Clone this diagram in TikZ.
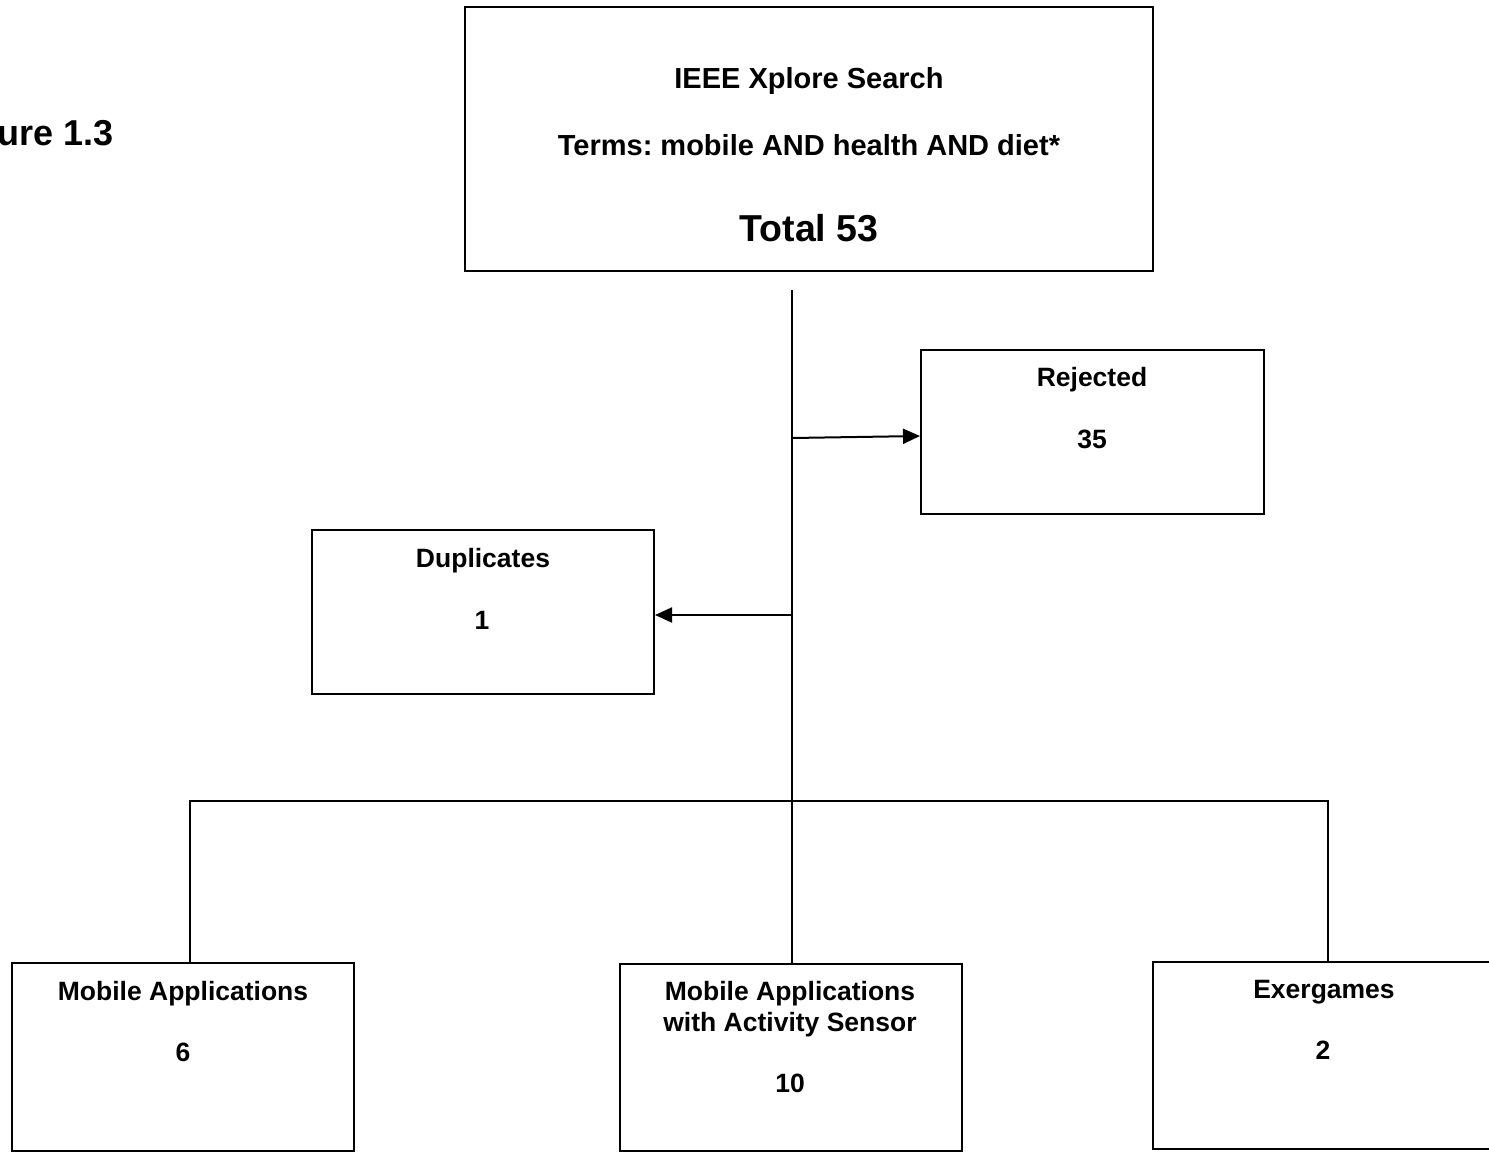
\documentclass[tikz,border=0pt]{standalone}
\usepackage{fontspec}
\setmainfont{Liberation Sans}
\usetikzlibrary{arrows.meta,calc}
\frenchspacing
\begin{document}
\begin{tikzpicture}[x=1pt,y=-1pt,
  box/.style={draw,line width=2pt,inner sep=0pt,minimum width=#1},
  lbl/.style={inner sep=0pt,anchor=base,font=\fontsize{26.5}{30}\selectfont\bfseries},
  toplbl/.style={inner sep=0pt,anchor=base,font=\fontsize{29}{33}\selectfont\bfseries},
  biglbl/.style={inner sep=0pt,anchor=base,font=\fontsize{37.5}{42}\selectfont\bfseries},
  conn/.style={line width=2pt},
  arr/.style={line width=2pt,-{Triangle[length=17pt,width=15pt]}}]
\useasboundingbox (0,0) rectangle (1489,1152);
\clip (0,0) rectangle (1489,1152);
\fill[white] (0,0) rectangle (1489,1152);

% title fragment
\node[inner sep=0pt,anchor=base east,font=\fontsize{36}{40}\selectfont\bfseries] (fig) at (114,145) {ure 1.3};

% boxes
\node[box=688pt,minimum height=264pt] (top) at (809,139) {};
\node[box=343pt,minimum height=164pt] (rej) at (1092.5,432) {};
\node[box=342pt,minimum height=164pt] (dup) at (483,612) {};
\node[box=342pt,minimum height=188pt] (ma) at (183,1057) {};
\node[box=342pt,minimum height=187pt] (mas) at (791,1057.5) {};
\node[box=342pt,minimum height=187pt] (ex) at (1324,1055.5) {};

% texts
\node[toplbl] (t1) at (809,88) {IEEE Xplore Search};
\node[toplbl] (t2) at (809,155) {Terms: mobile AND health AND diet*};
\node[biglbl] (t3) at (809,241) {Total 53};
\node[lbl] (r1) at (1092,386) {Rejected};
\node[lbl] (r2) at (1092,448) {35};
\node[lbl] (d1) at (483,567) {Duplicates};
\node[lbl] (d2) at (482,629) {1};
\node[lbl] (m1) at (183,1000) {Mobile Applications};
\node[lbl] (m2) at (183,1061) {6};
\node[lbl] (s1) at (790,1000) {Mobile Applications};
\node[lbl] (s2) at (790,1031) {with Activity Sensor};
\node[lbl] (s3) at (790,1092) {10};
\node[lbl] (e1) at (1324,998) {Exergames};
\node[lbl] (e2) at (1323,1059) {2};

% connectors
\coordinate (vs) at (792,290);
\coordinate (jr) at (792,438);
\coordinate (jd) at (792,615);
\coordinate (lb) at (190,801);
\coordinate (rb) at (1328,801);
\draw[conn] (vs) -- (vs |- mas.north);
\draw[arr] (jr) -- ($(rej.west)+(0,4)$);
\draw[arr] (jd) -- ($(dup.east)+(0,3)$);
\draw[conn] (lb |- ma.north) -- (lb) -- (rb) -- (rb |- ex.north);
\end{tikzpicture}
\end{document}
